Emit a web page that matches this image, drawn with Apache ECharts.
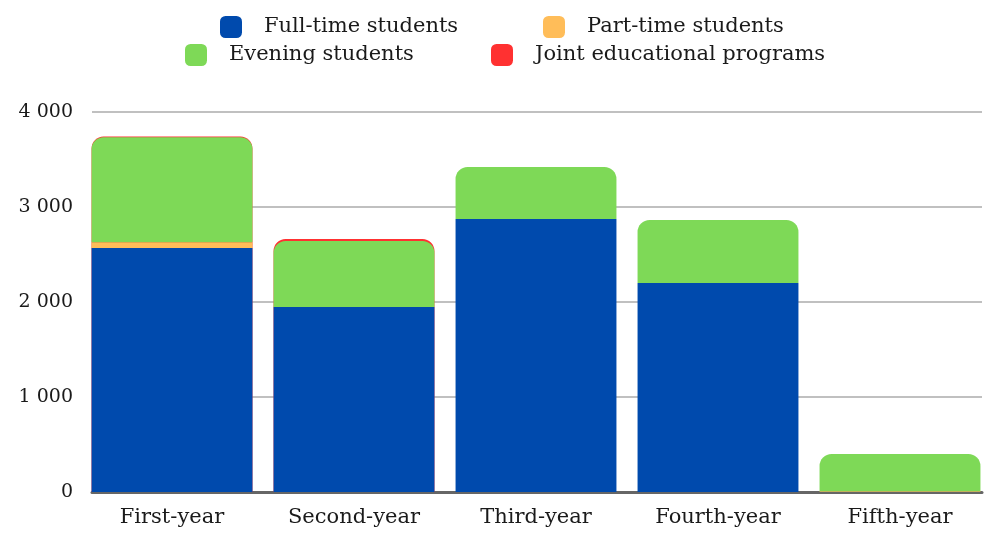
<!DOCTYPE html>
<html><head><meta charset="utf-8">
<script src="https://cdn.jsdelivr.net/npm/echarts@6/dist/echarts.min.js"></script>
<style>html,body{margin:0;padding:0;background:#fff}#c{width:991px;height:534px}</style>
</head><body><div id="c"></div>
<script>
const categories = ['First-year','Second-year','Third-year','Fourth-year','Fifth-year'];
const fullTime = [2568, 1947, 2874, 2200, 0];
const partTime = [62, 0, 0, 0, 8];
const evening = [1105, 695, 547, 663, 392];
const joint = [8, 22, 0, 0, 0];
const yTicks = [0, 1000, 2000, 3000, 4000];
const seriesNames = ['Full-time students','Part-time students','Evening students','Joint educational programs'];
const colors = ['#004AAD','#FFBD59','#7ED957','#FF3131'];

const FONT = 'DejaVu Serif';
const R = 12;
const yMin = yTicks[0], yMax = yTicks[yTicks.length - 1];

const stacked = [fullTime, partTime, evening];
const stackSeries = stacked.map((d, k) => ({
  name: seriesNames[k], type: 'bar', stack: 'total',
  xAxisIndex: 1, yAxisIndex: 1, z: 3,
  barCategoryGap: '11.6%', barGap: '-100%',
  itemStyle: { color: colors[k], borderRadius: k === 2 ? [R, R, 0, 0] : 0 },
  data: d
}));
// Joint programs: drawn as the sliver on top of each stack (total height, behind the stack)
const totals = categories.map((c, i) => fullTime[i] + partTime[i] + evening[i] + joint[i]);
const jointSeries = {
  name: seriesNames[3], type: 'bar',
  xAxisIndex: 1, yAxisIndex: 1, z: 2,
  barCategoryGap: '11.6%', barGap: '-100%',
  itemStyle: { color: colors[3], borderRadius: [R, R, 0, 0] },
  data: totals.map((t, i) => joint[i] > 0 ? t : '-')
};

const legendPos = [[215, 11], [538, 11], [180, 39], [486, 39]];
const legends = seriesNames.map((n, k) => ({
  data: [n], left: legendPos[k][0], top: legendPos[k][1],
  itemWidth: 22, itemHeight: 22, itemGap: 0,
  icon: 'roundRect',
  textStyle: { fontFamily: FONT, fontSize: 21, color: '#1a1a1a', padding: [0, 0, 0, 17] },
  selectedMode: false
}));

const chart = echarts.init(document.getElementById('c'));
chart.setOption({
  animation: false,
  color: colors,
  legend: legends,
  grid: [
    { left: 92, right: 9, top: 112, bottom: 42 },
    { left: 81, right: -2, top: 112, bottom: 42 }
  ],
  xAxis: [
    { type: 'value', gridIndex: 0, min: 0, max: 1,
      axisLine: { show: true, onZero: false, lineStyle: { color: '#666', width: 3 } },
      axisTick: { show: false }, axisLabel: { show: false }, splitLine: { show: false } },
    { type: 'category', gridIndex: 1, data: categories,
      axisLine: { show: false }, axisTick: { show: false },
      axisLabel: { fontFamily: FONT, fontSize: 21, color: '#1a1a1a', margin: 15 } }
  ],
  yAxis: [
    { type: 'value', gridIndex: 0, min: yMin, max: yMax, interval: 1000,
      axisLine: { show: false }, axisTick: { show: false },
      splitLine: { lineStyle: { color: '#c0c0c0', width: 2 } },
      axisLabel: {
        fontFamily: FONT, fontSize: 19, color: '#1a1a1a', margin: 19, padding: [6, 0, 0, 0],
        formatter: v => String(v).replace(/\B(?=(\d{3})+(?!\d))/g, ' ')
      } },
    { type: 'value', gridIndex: 1, min: yMin, max: yMax, interval: 1000, show: false,
      splitLine: { show: false } }
  ],
  series: [...stackSeries, jointSeries]
});
</script></body></html>
